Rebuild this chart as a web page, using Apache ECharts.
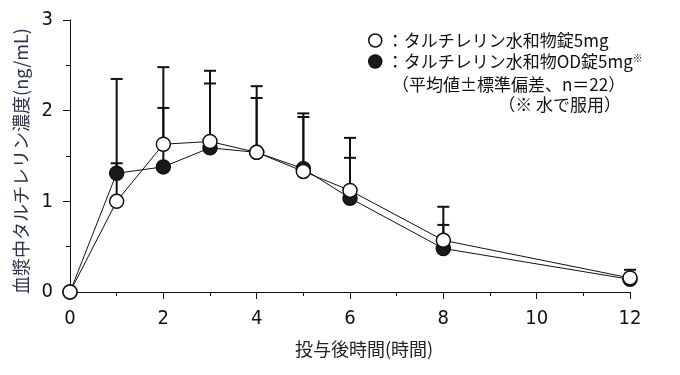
<!DOCTYPE html>
<html><head><meta charset="utf-8">
<script src="https://cdn.jsdelivr.net/npm/echarts@6/dist/echarts.min.js"></script>
<style>html,body{margin:0;padding:0;background:#fff}#c{width:680px;height:375px}</style>
</head><body><div id="c"></div>
<script>
// time after dosing (hours)
const times = [0, 1, 2, 3, 4, 5, 6, 8, 12];
// タルチレリン水和物錠5mg (open circles)
const tabletMean = [0, 1.00, 1.63, 1.66, 1.54, 1.33, 1.12, 0.57, 0.155];
const tabletSD   = [0, 0.42, 0.85, 0.78, 0.73, 0.64, 0.58, 0.37, 0.09];
// タルチレリン水和物OD錠5mg (filled circles)
const odMean = [0, 1.31, 1.38, 1.59, 1.54, 1.36, 1.035, 0.48, 0.14];
const odSD   = [0, 1.04, 0.65, 0.71, 0.60, 0.57, 0.445, 0.26, 0.06];

const tabletName = '：タルチレリン水和物錠5mg';
const odName = '：タルチレリン水和物OD錠5mg';
const noteLines = ['（平均値±標準偏差、n＝22）', '（※ 水で服用）'];
const xAxisName = '投与後時間(時間)';
const yAxisName = '血漿中タルチレリン濃度(ng/mL)';

const numFont = '"Liberation Sans Narrow","DejaVu Sans Condensed","Arial Narrow",sans-serif';
const jpFont = '"Noto Sans CJK JP","Noto Sans",sans-serif';

function errRender(params, api) {
  const x = api.value(0), m = api.value(1), sd = api.value(2);
  if (!sd) return null;
  const p0 = api.coord([x, m]);
  const p1 = api.coord([x, m + sd]);
  const st = { stroke: '#111', lineWidth: 2 };
  return {
    type: 'group',
    children: [
      { type: 'line', shape: { x1: p0[0], y1: p0[1], x2: p1[0], y2: p1[1] }, style: st },
      { type: 'line', shape: { x1: p1[0] - 6, y1: p1[1], x2: p1[0] + 6, y2: p1[1] }, style: st }
    ]
  };
}

const chart = echarts.init(document.getElementById('c'), null, { renderer: 'canvas' });
chart.setOption({
  animation: false,
  backgroundColor: '#fff',
  grid: { left: 70, right: 50, top: 20, bottom: 83, containLabel: false },
  legend: {
    orient: 'vertical',
    left: 368,
    top: 32,
    padding: 0,
    itemGap: 4,
    itemWidth: 13,
    itemHeight: 13,
    icon: 'circle',
    data: [
      { name: tabletName, itemStyle: { color: '#fff', borderColor: '#111', borderWidth: 1.5 } },
      { name: odName, itemStyle: { color: '#1a1a1a', borderColor: '#111', borderWidth: 1.5 } }
    ],
    formatter: function (n) { return n === odName ? '{a|' + n + '}{sup|※}' : '{a|' + n + '}'; },
    textStyle: {
      fontFamily: jpFont, fontSize: 17, color: '#111', lineHeight: 17,
      rich: {
        a: { fontFamily: jpFont, fontSize: 17, color: '#111', lineHeight: 17 },
        sup: { fontFamily: jpFont, fontSize: 10, color: '#111', verticalAlign: 'top', lineHeight: 10 }
      }
    }
  },
  graphic: [
    { type: 'text', left: 392, top: 76, style: { text: noteLines[0], font: '17px ' + jpFont, fill: '#111' } },
    { type: 'text', right: 59, top: 96, style: { text: noteLines[1], font: '17px ' + jpFont, fill: '#111' } }
  ],
  xAxis: {
    type: 'value', min: 0, max: 12, interval: 2,
    name: xAxisName, nameLocation: 'middle', nameGap: 48,
    nameTextStyle: { fontFamily: jpFont, fontSize: 18, color: '#222', padding: [0, 0, 0, 28] },
    axisLine: { show: true, lineStyle: { color: '#111', width: 1 } },
    axisTick: { show: true, length: 7, lineStyle: { color: '#111' } },
    minorTick: { show: true, splitNumber: 2, length: 4, lineStyle: { color: '#111' } },
    axisLabel: { fontFamily: numFont, fontSize: 20, color: '#111', margin: 17 },
    splitLine: { show: false }
  },
  yAxis: {
    type: 'value', min: 0, max: 3, interval: 1,
    name: yAxisName, nameLocation: 'middle', nameGap: 36, nameRotate: 90,
    nameTextStyle: { fontFamily: jpFont, fontSize: 18, color: '#2a3350', padding: [0, 10, 0, 0] },
    axisLine: { show: true, lineStyle: { color: '#111', width: 1 } },
    axisTick: { show: true, length: 7, lineStyle: { color: '#111' } },
    minorTick: { show: true, splitNumber: 2, length: 4, lineStyle: { color: '#111' } },
    axisLabel: { fontFamily: numFont, fontSize: 20, color: '#111', margin: 17 },
    splitLine: { show: false }
  },
  series: [
    {
      type: 'custom', name: 'tabletErr', renderItem: errRender, z: 1,
      encode: { x: 0, y: 1 },
      data: times.map((t, i) => [t, tabletMean[i], tabletSD[i]])
    },
    {
      type: 'custom', name: 'odErr', renderItem: errRender, z: 1,
      encode: { x: 0, y: 1 },
      data: times.map((t, i) => [t, odMean[i], odSD[i]])
    },
    {
      type: 'line', name: odName, z: 3,
      data: times.map((t, i) => [t, odMean[i]]),
      symbol: 'circle', symbolSize: 14, showAllSymbol: true,
      lineStyle: { color: '#111', width: 1 },
      itemStyle: { color: '#1a1a1a', borderColor: '#111', borderWidth: 1.5 }
    },
    {
      type: 'line', name: tabletName, z: 4,
      data: times.map((t, i) => [t, tabletMean[i]]),
      symbol: 'circle', symbolSize: 14, showAllSymbol: true,
      lineStyle: { color: '#111', width: 1 },
      itemStyle: { color: '#fff', borderColor: '#111', borderWidth: 1.5 }
    }
  ]
});
</script>
</body></html>
